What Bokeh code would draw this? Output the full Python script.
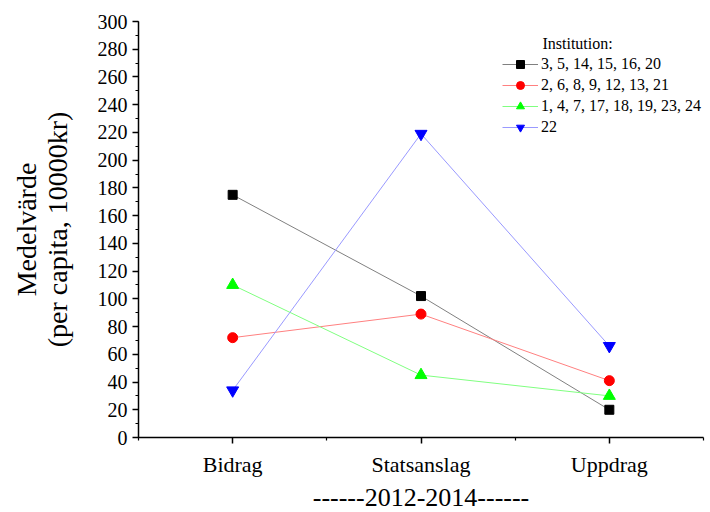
from bokeh.plotting import figure
from bokeh.models import FixedTicker, Range1d, Legend, LegendItem, Label
from bokeh.embed import file_html
from bokeh.resources import INLINE

categories = ["Bidrag", "Statsanslag", "Uppdrag"]
series_names = ["3, 5, 14, 15, 16, 20", "2, 6, 8, 9, 12, 13, 21",
                "1, 4, 7, 17, 18, 19, 23, 24", "22"]
black_vals = [175, 102, 20]
red_vals = [72, 89, 41]
green_vals = [110, 45, 30]
blue_vals = [34, 219, 66]
y_ticks = list(range(0, 301, 20))
y_minor = list(range(0, 301, 10))

FONT = "Liberation Serif"
xs = [1, 2, 3]

p = figure(width=710, height=512, output_backend="svg", toolbar_location=None,
           x_range=Range1d(0.5, 3.5), y_range=Range1d(0, 300),
           min_border_left=138, min_border_right=7, min_border_top=21, min_border_bottom=75)
p.outline_line_color = None
p.xgrid.visible = False
p.ygrid.visible = False
p.background_fill_color = "white"

p.xaxis.ticker = FixedTicker(ticks=xs, minor_ticks=[0.5, 1.5, 2.5, 3.5])
p.xaxis.major_label_overrides = {i + 1: c for i, c in enumerate(categories)}
p.yaxis.ticker = FixedTicker(ticks=y_ticks, minor_ticks=y_minor)

for ax in (p.xaxis, p.yaxis):
    ax.axis_line_width = 1.5
    ax.axis_line_color = "black"
    ax.major_tick_line_color = "black"
    ax.minor_tick_line_color = "black"
    ax.major_tick_line_width = 1.5
    ax.minor_tick_line_width = 1.2
    ax.major_tick_in = 0
    ax.major_tick_out = 6
    ax.minor_tick_in = 0
    ax.minor_tick_out = 3
    ax.major_label_text_font = FONT
    ax.major_label_text_color = "black"
    ax.axis_label_text_font = FONT
    ax.axis_label_text_font_style = "normal"
    ax.axis_label_text_color = "black"

p.xaxis.major_label_text_font_size = "22px"
p.yaxis.major_label_text_font_size = "20px"
p.xaxis.major_label_standoff = 8
p.yaxis.major_label_standoff = 5
p.xaxis.axis_label = "------2012-2014------"
p.xaxis.axis_label_text_font_size = "26px"
p.xaxis.axis_label_standoff = 9
p.yaxis.axis_label = "Medelvärde\n(per capita, 10000kr)"
p.yaxis.axis_label_text_font_size = "28px"
p.yaxis.axis_label_text_line_height = 0.97
p.yaxis.axis_label_standoff = 22

specs = [
    (black_vals, "#808080", "black", "square", 9),
    (red_vals, "#ff8080", "red", "circle", 10),
    (green_vals, "#80ff80", "#00ff00", "triangle", 12),
    (blue_vals, "#9999ff", "blue", "inverted_triangle", 12),
]
items = []
for name, (vals, lc, mc, mk, sz) in zip(series_names, specs):
    l = p.line(xs, vals, line_color=lc, line_width=1)
    s = p.scatter(xs, vals, marker=mk, size=sz, fill_color=mc, line_color=mc)
    items.append(LegendItem(label=name, renderers=[l, s]))

legend = Legend(items=items, location=(364, 300), border_line_color=None,
                background_fill_alpha=0, label_text_font=FONT,
                label_text_font_size="16px", label_text_color="black",
                glyph_width=36, glyph_height=20, spacing=1, label_standoff=3,
                padding=0, margin=0, label_height=20)
p.add_layout(legend, "center")

p.add_layout(Label(x=2.645, y=284.1, text="Institution:", text_font=FONT,
                   text_font_size="16px", text_color="black",
                   text_baseline="middle", text_align="left"))

open("out.html", "w").write(file_html(p, INLINE))
